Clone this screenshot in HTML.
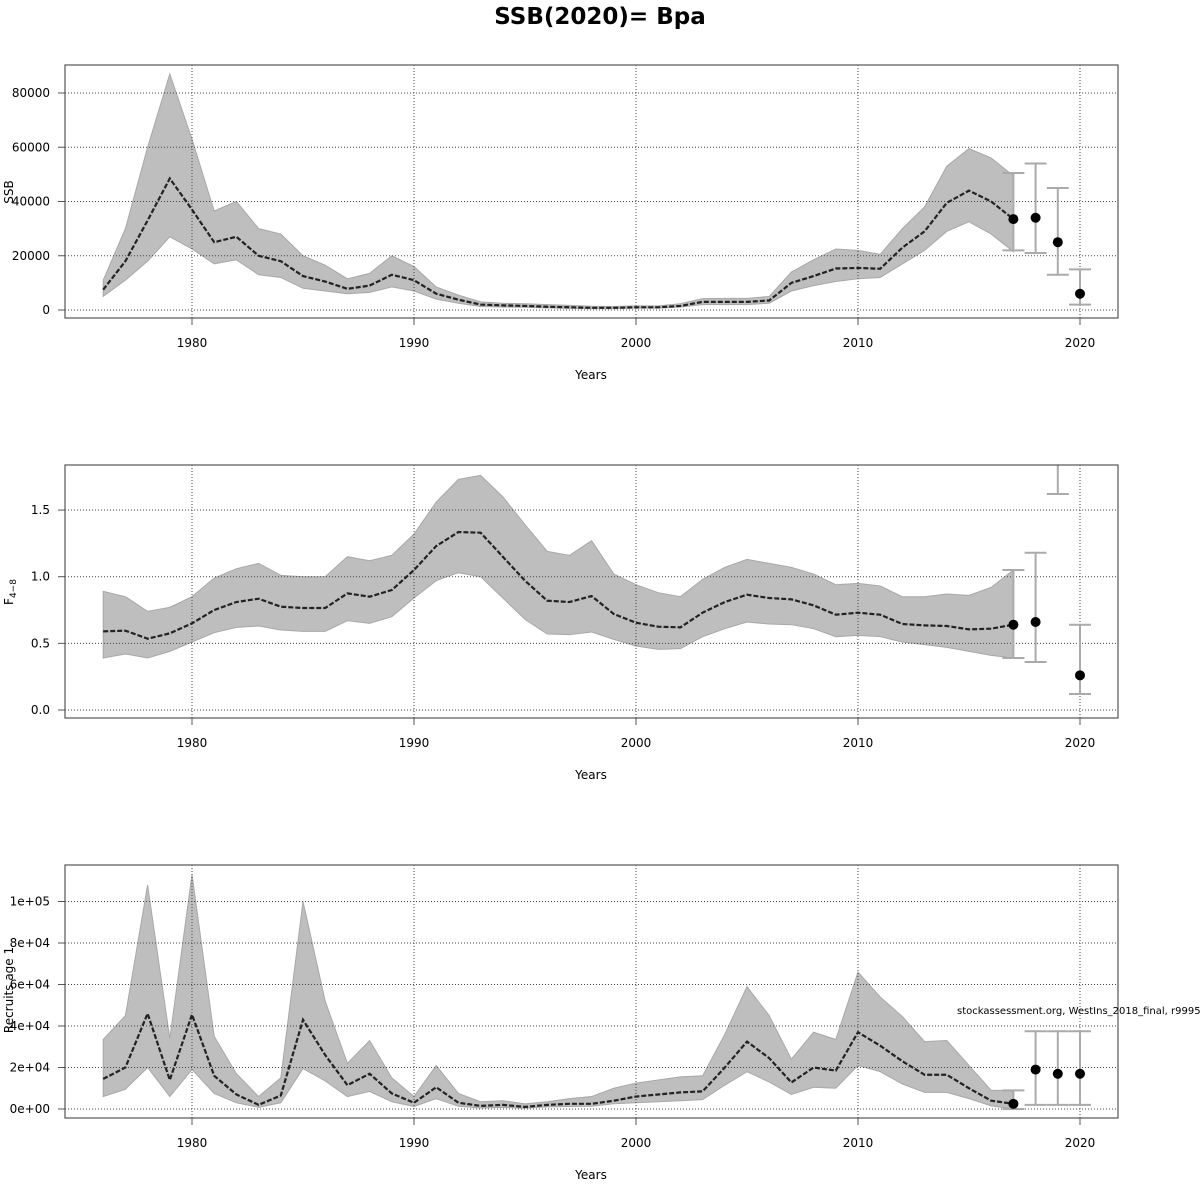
<!DOCTYPE html>
<html><head><meta charset="utf-8"><style>
body{margin:0;background:#fff}
svg{display:block;font-family:"DejaVu Sans","Liberation Sans",sans-serif}
</style></head><body>
<svg id="c" width="1200" height="1200" viewBox="0 0 1200 1200">
<text x="600" y="24" text-anchor="middle" font-size="23" font-weight="bold">SSB(2020)= Bpa</text>
</svg>
<script>
const years=[];for(let y=1976;y<=2017;y++)years.push(y);
const ssbMean=[7.5,18,33,48.5,37,25,27,20,18,12.5,10.5,7.8,9,13,11,6,3.8,2,1.7,1.5,1.2,1.0,0.8,0.8,1.0,1.0,1.5,3,3,3,3.5,10,12.5,15.3,15.5,15.2,23,29,39.5,44,40,33.5];
const ssbHigh=[11,30,60,87,63,36.5,40,30,28,20,16.5,11.5,13.5,20,16,8.5,5.5,3,2.5,2.3,2,1.7,1.4,1.3,1.5,1.5,2.3,4.2,4.3,4.3,5,14,18.5,22.5,22,20.5,30,38,53,59.5,56,49.5];
const ssbLow=[5,11,18,27,22.5,17,18.5,13,12,8,7,6,6.5,8.5,7,4,2.5,1.3,1.1,1,0.8,0.6,0.5,0.5,0.7,0.7,1.1,2,2,2,2.5,7,9,10.5,11.5,12,17,22,29,32.5,28,21.5];
const fMean=[0.59,0.595,0.535,0.575,0.65,0.75,0.81,0.835,0.775,0.765,0.765,0.875,0.85,0.9,1.05,1.23,1.335,1.33,1.15,0.97,0.82,0.81,0.855,0.72,0.655,0.625,0.62,0.73,0.81,0.865,0.84,0.83,0.785,0.715,0.73,0.715,0.645,0.635,0.63,0.605,0.61,0.64];
const fHigh=[0.89,0.85,0.74,0.77,0.85,0.99,1.06,1.1,1.01,1.0,1.0,1.15,1.12,1.16,1.32,1.56,1.73,1.76,1.6,1.39,1.19,1.16,1.27,1.02,0.94,0.88,0.85,0.98,1.07,1.13,1.1,1.07,1.02,0.94,0.95,0.93,0.85,0.85,0.87,0.86,0.92,1.05];
const fLow=[0.39,0.42,0.39,0.44,0.51,0.58,0.62,0.63,0.6,0.59,0.59,0.67,0.65,0.7,0.84,0.97,1.03,1.0,0.84,0.68,0.57,0.565,0.585,0.53,0.48,0.455,0.46,0.55,0.61,0.66,0.645,0.64,0.61,0.55,0.56,0.55,0.51,0.49,0.47,0.44,0.41,0.39];
const recMean=[14.5,20,46,14,45.5,16,7,2,6.5,43,26,11.5,17,7.5,3,10.5,3,1.5,2,1,2,2.5,2.5,4,6,7,8,8.5,20,32.5,24.5,12.8,20,18.5,37,30.5,23,16.5,16.5,10,4,2.5];
const recHigh=[33.5,45,108,34,113,35,17,6,15,100,52,22,33,15,6,21,7.5,3.5,4,2.5,3.5,5,6,10,12.5,14,15.5,16,36,59,45,24,37,33.5,66,54,44.5,32.5,33,21,9,9];
const recLow=[6,9.5,20,6,19,7.5,3,0.8,3,19.5,13.5,6,8.5,3.5,1.2,5,1.3,0.5,0.8,0.4,1,1.2,1.3,2.5,3,3.5,4,4.5,11.5,18,13,7,10.5,10,21,18,12,8,8,5,1.5,0];
const fcYears=[2017,2018,2019,2020];
const ssbFc=[33.5,34,25,6],ssbFcLo=[22,21,13,2],ssbFcHi=[50.5,54,45,15];
const fFc=[0.64,0.66,null,0.26],fFcLo=[0.39,0.36,1.62,0.12],fFcHi=[1.05,1.18,3,0.64];
const recFc=[2.5,19,17,17],recFcLo=[0,2,2,2],recFcHi=[9,37.5,37.5,37.5];
const xTicks=[1980,1990,2000,2010,2020];
const ssbTicks=[0,20000,40000,60000,80000],ssbLabels=["0","20000","40000","60000","80000"];
const fTicks=[0,0.5,1,1.5],fLabels=["0.0","0.5","1.0","1.5"];
const recTicks=[0,20,40,60,80,100],recLabels=["0e+00","2e+04","4e+04","6e+04","8e+04","1e+05"];

const svg=document.getElementById('c');const NS='http://www.w3.org/2000/svg';
function mk(t,a,p){const e=document.createElementNS(NS,t);for(const k in a)e.setAttribute(k,a[k]);(p||svg).appendChild(e);return e;}
const X=y=>192+(y-1980)*22.2;
function panel(top,y0px,yPerUnit,mean,hi,lo,fc,fcLo,fcHi,ticks,labels,tickScale,name,ylab){
  const Y=v=>y0px-v*yPerUnit;
  const g=mk('g',{});
  
  
  const cp=mk('clipPath',{id:'cp'+name},g);mk('rect',{x:65,y:top,width:1053,height:253},cp);
  const inner=mk('g',{'clip-path':'url(#cp'+name+')'},g);
  let pts=years.map((y,i)=>X(y)+','+Y(hi[i]));
  for(let i=years.length-1;i>=0;i--)pts.push(X(years[i])+','+Y(lo[i]));
  const band=mk('polygon',{points:pts.join(' '),fill:'#bebebe',stroke:'#a8a8a8','stroke-width':1},inner);
  
  
  xTicks.forEach(t=>{mk('line',{x1:X(t),x2:X(t),y1:top,y2:top+253,stroke:'#444','stroke-dasharray':'1,2','stroke-width':1},inner);});
  ticks.forEach(t=>{const yy=Y(t/tickScale);mk('line',{x1:65,x2:1118,y1:yy,y2:yy,stroke:'#444','stroke-dasharray':'1,2','stroke-width':1},inner);});
  const ln=mk('polyline',{points:years.map((y,i)=>X(y)+','+Y(mean[i])).join(' '),fill:'none',stroke:'#222','stroke-width':2.2,'stroke-dasharray':'5,2'},inner);
  
  
  fcYears.forEach((y,i)=>{
    const x=X(y);
    mk('line',{x1:x,x2:x,y1:Y(fcLo[i]),y2:Y(fcHi[i]),stroke:'#aaa','stroke-width':2},inner);
    mk('line',{x1:x-11,x2:x+11,y1:Y(fcLo[i]),y2:Y(fcLo[i]),stroke:'#aaa','stroke-width':2},inner);
    mk('line',{x1:x-11,x2:x+11,y1:Y(fcHi[i]),y2:Y(fcHi[i]),stroke:'#aaa','stroke-width':2},inner);
    if(fc[i]!==null){const c=mk('circle',{cx:x,cy:Y(fc[i]),r:5,fill:'#000'},inner);
      
      }
  });
  mk('rect',{x:65,y:top,width:1053,height:253,fill:'none',stroke:'#555','stroke-width':1.2},g);
  xTicks.forEach(t=>{mk('line',{x1:X(t),x2:X(t),y1:top+253,y2:top+260,stroke:'#555'},g);
    const tx=mk('text',{x:X(t),y:top+282,'text-anchor':'middle','font-size':12},g);tx.textContent=t;});
  ticks.forEach((t,i)=>{const yy=Y(t/tickScale);mk('line',{x1:58,x2:65,y1:yy,y2:yy,stroke:'#555'},g);
    const tx=mk('text',{x:50,y:yy+4,'text-anchor':'end','font-size':12},g);tx.textContent=labels[i];});
  const xl=mk('text',{x:591,y:top+314,'text-anchor':'middle','font-size':12},g);xl.textContent='Years';
  
  
  return g;
}
panel(65,310,2.7125,ssbMean,ssbHigh,ssbLow,ssbFc,ssbFcLo,ssbFcHi,ssbTicks,ssbLabels,1000,'ssb');
panel(465,710,133.3,fMean,fHigh,fLow,fFc,fFcLo,fFcHi,fTicks,fLabels,1,'f');
panel(865,1109,2.075,recMean,recHigh,recLow,recFc,recFcLo,recFcHi,recTicks,recLabels,1,'rec');
function ylab(x,y,html,name){const t=mk('text',{x:x,y:y,'text-anchor':'middle','font-size':12,transform:'rotate(-90 '+x+' '+y+')'});t.innerHTML=html;
  
  }
ylab(13,192,'SSB','ssb-y-axis-title');
ylab(13,592,'F<tspan font-size="9" dy="3">4\u22128</tspan>','f-y-axis-title');
ylab(13,990,'Recruits age 1','rec-y-axis-title');
const note=mk('text',{x:957,y:1014,'font-size':10});note.textContent='stockassessment.org, WestIns_2018_final, r9995';


</script>
</body></html>
